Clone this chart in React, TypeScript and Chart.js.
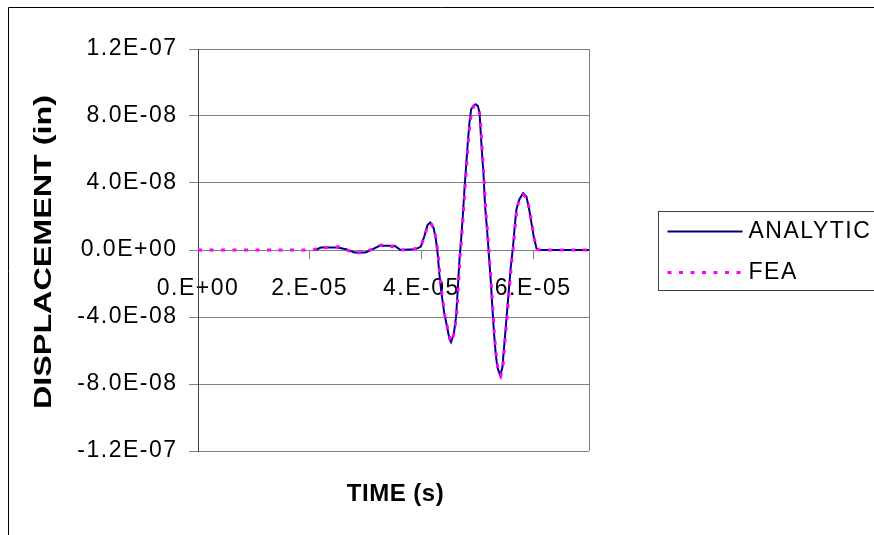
import React, { useEffect, useRef } from 'react';
import { Chart, registerables } from 'chart.js';

Chart.register(...registerables);

// Time in microseconds, displacement in units of 1e-8 inch
const analyticTimeUs = [
  21, 22, 25, 26.5, 28, 30, 31.3, 32.5, 35.2, 36.3, 38.5, 39.3, 39.9, 40.5, 41.1, 41.6, 42.2, 42.6, 42.9, 43.2,
  43.6, 44.1, 44.6, 45.0, 45.3, 45.8, 46.2, 46.5, 46.8, 47.1, 47.4, 47.7, 48.0, 48.3, 48.6, 48.9, 49.3, 49.7, 50.1,
  50.4, 50.8, 51.1, 51.4, 51.8, 52.1, 52.4, 52.7, 53.0, 53.3, 53.6, 54.1, 54.5, 54.8, 55.1, 55.4, 55.7, 56.0, 56.4,
  56.7, 57.0, 57.5, 58.2, 58.8, 59.3, 59.7, 60.1, 60.6, 61.0, 65, 70,
];
const analyticDisp = [
  0, 0.15, 0.15, 0.05, -0.15, -0.15, 0.05, 0.25, 0.25, 0, 0.05, 0.1, 0.2, 0.8, 1.5, 1.64, 1.3, 0.6, -0.2, -1.4,
  -2.6, -3.8, -4.6, -5.3, -5.5, -5.0, -4.0, -2.4, -0.6, 0.6, 2.0, 3.6, 5.0, 6.4, 7.6, 8.4, 8.6, 8.7, 8.6,
  8.2, 6.0, 4.6, 2.6, 1.0, -0.4, -1.8, -3.4, -5.0, -6.2, -7.0, -7.5, -7.0, -5.8, -4.6, -3.4, -2.2, -1.0, 0.2,
  1.4, 2.4, 3.0, 3.4, 3.2, 2.4, 1.6, 0.8, 0.1, 0, 0, 0,
];

const feaTimeUs = [
  0, 20.5, 21.6, 25.2, 26.7, 28.2, 30.1, 31.5, 32.8, 35.0, 36.5, 38.6, 39.4, 40.0, 40.6, 41.2, 41.7, 42.3, 42.7,
  43.0, 43.3, 43.7, 44.2, 44.7, 45.1, 45.4, 45.9, 46.3, 46.6, 46.9, 47.2, 47.5, 47.8, 48.1, 48.4, 48.7, 49.0, 49.4,
  49.8, 50.2, 50.5, 50.9, 51.2, 51.5, 51.9, 52.2, 52.5, 52.8, 53.1, 53.4, 53.7, 54.2, 54.6, 54.9, 55.2, 55.5, 55.8,
  56.1, 56.5, 56.8, 57.1, 57.6, 58.2, 58.9, 59.4, 59.8, 60.2, 60.7, 61.1, 65, 70,
];
const feaDisp = [
  0, 0, 0.1, 0.2, 0, -0.2, -0.1, 0.1, 0.3, 0.2, 0, 0.05, 0.15, 0.3, 0.9, 1.5, 1.6, 1.2, 0.5,
  -0.3, -1.5, -2.7, -3.9, -4.7, -5.3, -5.5, -4.9, -3.9, -2.2, -0.5, 0.7, 2.1, 3.7, 5.1, 6.5, 7.6, 8.3, 8.6,
  8.6, 8.5, 8.0, 5.9, 4.4, 2.4, 0.8, -0.6, -2.0, -3.6, -5.2, -6.3, -7.1, -7.5, -6.9, -5.7, -4.5, -3.3, -2.1,
  -0.9, 0.3, 1.5, 2.5, 3.1, 3.3, 3.1, 2.3, 1.5, 0.7, 0.05, 0, 0, 0,
];

const seriesNames = ['ANALYTIC', 'FEA'];
const seriesColors = ['#000080', '#FF00FF'];

const xTickValues = [0, 2e-5, 4e-5, 6e-5];
const xTickLabels = ['0.E+00', '2.E-05', '4.E-05', '6.E-05'];
const yTickValues = [-1.2e-7, -8e-8, -4e-8, 0, 4e-8, 8e-8, 1.2e-7];
const yTickLabels = ['-1.2E-07', '-8.0E-08', '-4.0E-08', '0.0E+00', '4.0E-08', '8.0E-08', '1.2E-07'];
const xRange = [0, 7e-5];
const yRange = [-1.2e-7, 1.2e-7];
const xTitle = 'TIME (s)';
const yTitle = 'DISPLACEMENT (in)';

const FONT = '"Liberation Sans", Arial, sans-serif';
const TEXT_SPACING = '1.5px';

function toPoints(times: number[], disp: number[]) {
  return times.map((t, i) => ({ x: t * 1e-6, y: disp[i] * 1e-8 }));
}

function labelFor(values: number[], labels: string[], v: number) {
  let best = 0;
  for (let i = 0; i < values.length; i++) {
    if (Math.abs(values[i] - v) < Math.abs(values[best] - v)) best = i;
  }
  return labels[best];
}

const decorPlugin = {
  id: 'excelDecor',
  beforeDraw(chart: any) {
    // Excel-like wide glyph spacing for tick labels
    (chart.ctx as any).letterSpacing = TEXT_SPACING;
  },
  afterDraw(chart: any) {
    const { ctx, chartArea } = chart;
    const ca = chartArea;
    ctx.save();
    // plot-area right border
    ctx.strokeStyle = '#808080';
    ctx.lineWidth = 1;
    const rx = Math.round(ca.right) + 0.5;
    ctx.beginPath();
    ctx.moveTo(rx, ca.top);
    ctx.lineTo(rx, ca.bottom);
    ctx.stroke();
    // outer chart border
    ctx.strokeStyle = '#000000';
    ctx.beginPath();
    ctx.moveTo(8.5, chart.height);
    ctx.lineTo(8.5, 7.5);
    ctx.lineTo(chart.width, 7.5);
    ctx.stroke();
    // x-axis title
    ctx.fillStyle = '#000000';
    (ctx as any).letterSpacing = '0.5px';
    ctx.font = `bold 24px ${FONT}`;
    ctx.textAlign = 'center';
    ctx.textBaseline = 'middle';
    ctx.fillText(xTitle, (ca.left + ca.right) / 2 + 2, ca.bottom + 43);
    // y-axis title (rotated, drawn elongated like the reference)
    (ctx as any).letterSpacing = '0px';
    ctx.save();
    ctx.translate(45, (ca.top + ca.bottom) / 2 + 2);
    ctx.rotate(-Math.PI / 2);
    ctx.font = `bold 23px ${FONT}`;
    const w = ctx.measureText(yTitle).width;
    ctx.scale(314 / w, 1);
    ctx.textAlign = 'center';
    ctx.textBaseline = 'middle';
    ctx.fillText(yTitle, 0, 0);
    ctx.restore();
    // legend
    const lx = Math.round(ca.right) + 69.5;
    const ly = 211.5;
    ctx.strokeStyle = '#404040';
    ctx.lineWidth = 1;
    ctx.strokeRect(lx, ly, 400, 79);
    (ctx as any).letterSpacing = TEXT_SPACING;
    ctx.font = `23px ${FONT}`;
    ctx.textAlign = 'left';
    ctx.textBaseline = 'alphabetic';
    seriesNames.forEach((name, i) => {
      const y = ly + 20 + i * 41;
      ctx.strokeStyle = seriesColors[i];
      ctx.lineWidth = i === 0 ? 2 : 3;
      ctx.setLineDash(i === 0 ? [] : [4, 7.5]);
      ctx.beginPath();
      ctx.moveTo(lx + 9, y);
      ctx.lineTo(lx + 84, y);
      ctx.stroke();
      ctx.setLineDash([]);
      ctx.fillText(name, lx + 90, y + 6);
    });
    ctx.restore();
    (ctx as any).letterSpacing = '0px';
  },
};

export default function App() {
  const canvasRef = useRef<HTMLCanvasElement | null>(null);

  useEffect(() => {
    const canvas = canvasRef.current;
    if (!canvas) return;
    const chart = new Chart(canvas, {
      type: 'line',
      data: {
        datasets: [
          {
            label: seriesNames[0],
            data: toPoints(analyticTimeUs, analyticDisp),
            borderColor: seriesColors[0],
            borderWidth: 2,
            pointRadius: 0,
            tension: 0,
            fill: false,
            order: 1,
          },
          {
            label: seriesNames[1],
            data: toPoints(feaTimeUs, feaDisp),
            borderColor: seriesColors[1],
            borderWidth: 3,
            borderDash: [4, 7.5],
            pointRadius: 0,
            tension: 0,
            fill: false,
            order: 0,
          },
        ],
      },
      options: {
        animation: false,
        responsive: false,
        layout: { padding: { left: 0, top: 49, right: 285, bottom: 84 } },
        plugins: { legend: { display: false }, tooltip: { enabled: false }, title: { display: false } },
        scales: {
          x: {
            type: 'linear',
            position: { y: 0 } as any,
            min: xRange[0],
            max: xRange[1],
            afterBuildTicks: (scale: any) => {
              scale.ticks = xTickValues.map((value) => ({ value }));
            },
            ticks: {
              autoSkip: false,
              maxRotation: 0,
              minRotation: 0,
              padding: 17,
              color: '#000000',
              font: { family: FONT, size: 23 },
              callback: (v: any) => labelFor(xTickValues, xTickLabels, Number(v)),
            },
            grid: { drawOnChartArea: false, drawTicks: true, tickLength: 8, color: '#808080' },
            border: { display: true, color: '#808080', width: 1 },
          },
          y: {
            type: 'linear',
            position: 'left',
            min: yRange[0],
            max: yRange[1],
            afterBuildTicks: (scale: any) => {
              scale.ticks = yTickValues.map((value) => ({ value }));
            },
            afterFit: (scale: any) => {
              scale.width = 198;
            },
            ticks: {
              autoSkip: false,
              padding: 11.5,
              color: '#000000',
              font: { family: FONT, size: 23 },
              callback: (v: any) => labelFor(yTickValues, yTickLabels, Number(v)),
            },
            grid: { color: '#808080', lineWidth: 1, tickLength: 9, drawTicks: true },
            border: { display: true, color: '#404040', width: 1 },
            title: { display: false },
          },
        },
      },
      plugins: [decorPlugin],
    });
    return () => chart.destroy();
  }, []);

  return (
    <div style={{ position: 'fixed', left: 0, top: 0, width: 874, height: 535, background: '#ffffff' }}>
      <canvas ref={canvasRef} width={874} height={535} style={{ display: 'block' }} />
    </div>
  );
}
